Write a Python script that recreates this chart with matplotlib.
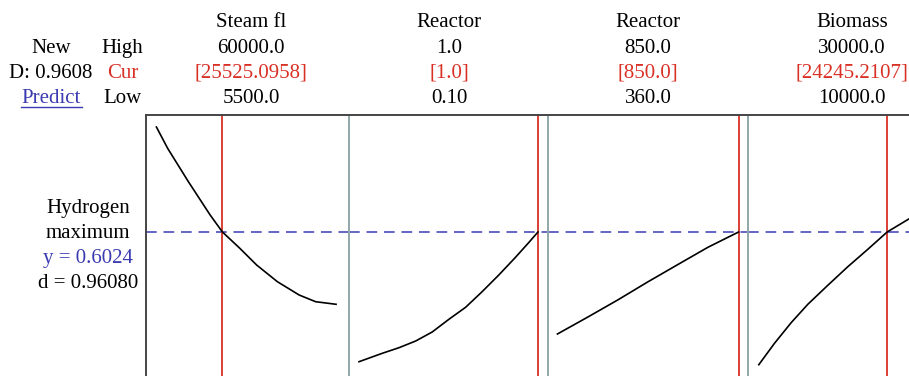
"""
Response optimizer profile: Hydrogen maximum vs four factors.
"""
import matplotlib.pyplot as plt

# ── Data ──────────────────────────────────────────────────────────────────────
factor_names = ["Steam fl", "Reactor", "Reactor", "Biomass"]
high_labels = ["60000.0", "1.0", "850.0", "30000.0"]
cur_labels = ["[25525.0958]", "[1.0]", "[850.0]", "[24245.2107]"]
low_labels = ["5500.0", "0.10", "360.0", "10000.0"]

lows = [5500.0, 0.10, 360.0, 10000.0]
highs = [60000.0, 1.0, 850.0, 30000.0]
currents = [25525.0958, 1.0, 850.0, 24245.2107]

y_pred = 0.6024

steam_x = [5500, 8900, 15200, 21800, 25525, 30800, 35900, 42200, 48800, 53800, 60000]
steam_y = [0.7074, 0.6861, 0.6527, 0.6194, 0.6024, 0.5861, 0.5694, 0.5527,
           0.5394, 0.5327, 0.5301]

react1_x = [0.10, 0.217, 0.301, 0.385, 0.468, 0.552, 0.636, 0.719, 0.803,
            0.887, 0.953, 1.0]
react1_y = [0.4727, 0.4811, 0.4867, 0.4934, 0.5024, 0.5151, 0.5271, 0.5427,
            0.5594, 0.5771, 0.5917, 0.6024]

react2_x = [360, 441, 523, 604, 685, 767, 850]
react2_y = [0.5004, 0.5171, 0.5344, 0.5524, 0.5697, 0.5871, 0.6024]

biomass_x = [10000, 11740, 13590, 15440, 17660, 19880, 22100, 24245, 26650, 30000]
biomass_y = [0.4697, 0.4911, 0.5117, 0.5301, 0.5491, 0.5677, 0.5851, 0.6024,
             0.6154, 0.6304]

curves = [(steam_x, steam_y), (react1_x, react1_y),
          (react2_x, react2_y), (biomass_x, biomass_y)]

# ── Colours ───────────────────────────────────────────────────────────────────
RED = "#d93025"
BLUE = "#3a3ab0"
DASH = "#6464c4"
SEP = "#8fa8a8"
SPINE = "#444444"

plt.rcParams["font.family"] = ["Liberation Serif", "DejaVu Serif"]

W, H = 909, 376
fig = plt.figure(figsize=(W / 100, H / 100), dpi=100)


def fx(px):
    return px / W


def fy(py):
    return (H - py) / H


panel_left = [146, 349, 548, 748]
panel_width = [203, 199, 200, 200]
# fraction of the range padded on the left / right of each panel
pad_left = [0.058, 0.056, 0.052, 0.060]
pad_right = [0.072, 0.056, 0.052, 0.050]
top_px, bottom_px = 115, 390
ylim = (y_pred - (bottom_px - 232) * 0.001, y_pred + (232 - top_px) * 0.001)

for i in range(4):
    ax = fig.add_axes([fx(panel_left[i]), fy(bottom_px),
                       fx(panel_width[i]), (bottom_px - top_px) / H])
    rng = highs[i] - lows[i]
    ax.set_xlim(lows[i] - rng * pad_left[i], highs[i] + rng * pad_right[i])
    ax.set_ylim(*ylim)
    ax.set_xticks([])
    ax.set_yticks([])
    for s in ["bottom", "right"]:
        ax.spines[s].set_visible(False)
    ax.spines["top"].set_color(SPINE)
    ax.spines["top"].set_linewidth(1.4)
    ax.spines["left"].set_color(SPINE if i == 0 else SEP)
    ax.spines["left"].set_linewidth(1.4)

    ax.axhline(y_pred, color=DASH, lw=1.4, dashes=(5.5, 3.5), zorder=1)
    ax.axvline(currents[i], color=RED, lw=1.3, zorder=2)
    cx, cy = curves[i]
    ax.plot(cx, cy, color="black", lw=1.2, zorder=3)

# ── Header text ───────────────────────────────────────────────────────────────
fs = 15
col_x = [251, 449, 648, 852]
rows_y = [22.7, 48.3, 73.3, 98.3]
for i in range(4):
    fig.text(fx(col_x[i]), fy(rows_y[0]), factor_names[i], ha="center", va="center", fontsize=fs)
    fig.text(fx(col_x[i]), fy(rows_y[1]), high_labels[i], ha="center", va="center", fontsize=fs)
    fig.text(fx(col_x[i]), fy(rows_y[2]), cur_labels[i], ha="center", va="center",
             fontsize=fs, color=RED)
    fig.text(fx(col_x[i]), fy(rows_y[3]), low_labels[i], ha="center", va="center", fontsize=fs)

fig.text(fx(51), fy(rows_y[1]), "New", ha="center", va="center", fontsize=fs)
fig.text(fx(51), fy(rows_y[2]), "D: 0.9608", ha="center", va="center", fontsize=fs)
fig.text(fx(51), fy(rows_y[3]), "Predict", ha="center", va="center",
         fontsize=fs, color=BLUE)
# underline for the "Predict" link
fig.add_artist(plt.Line2D([fx(21), fx(82)], [fy(106.5), fy(106.5)],
                          color=BLUE, lw=1.0))
fig.text(fx(122.5), fy(rows_y[1]), "High", ha="center", va="center", fontsize=fs)
fig.text(fx(122.5), fy(rows_y[2]), "Cur", ha="center", va="center", fontsize=fs, color=RED)
fig.text(fx(122.5), fy(rows_y[3]), "Low", ha="center", va="center", fontsize=fs)

# ── Response labels ───────────────────────────────────────────────────────────
fig.text(fx(88), fy(208.3), "Hydrogen", ha="center", va="center", fontsize=fs)
fig.text(fx(88), fy(233.3), "maximum", ha="center", va="center", fontsize=fs)
fig.text(fx(88), fy(258.3), f"y = {y_pred:.4f}", ha="center", va="center",
         fontsize=fs, color=BLUE)
fig.text(fx(88), fy(283.3), "d = 0.96080", ha="center", va="center", fontsize=fs)

fig.savefig("out.png", dpi=100)
